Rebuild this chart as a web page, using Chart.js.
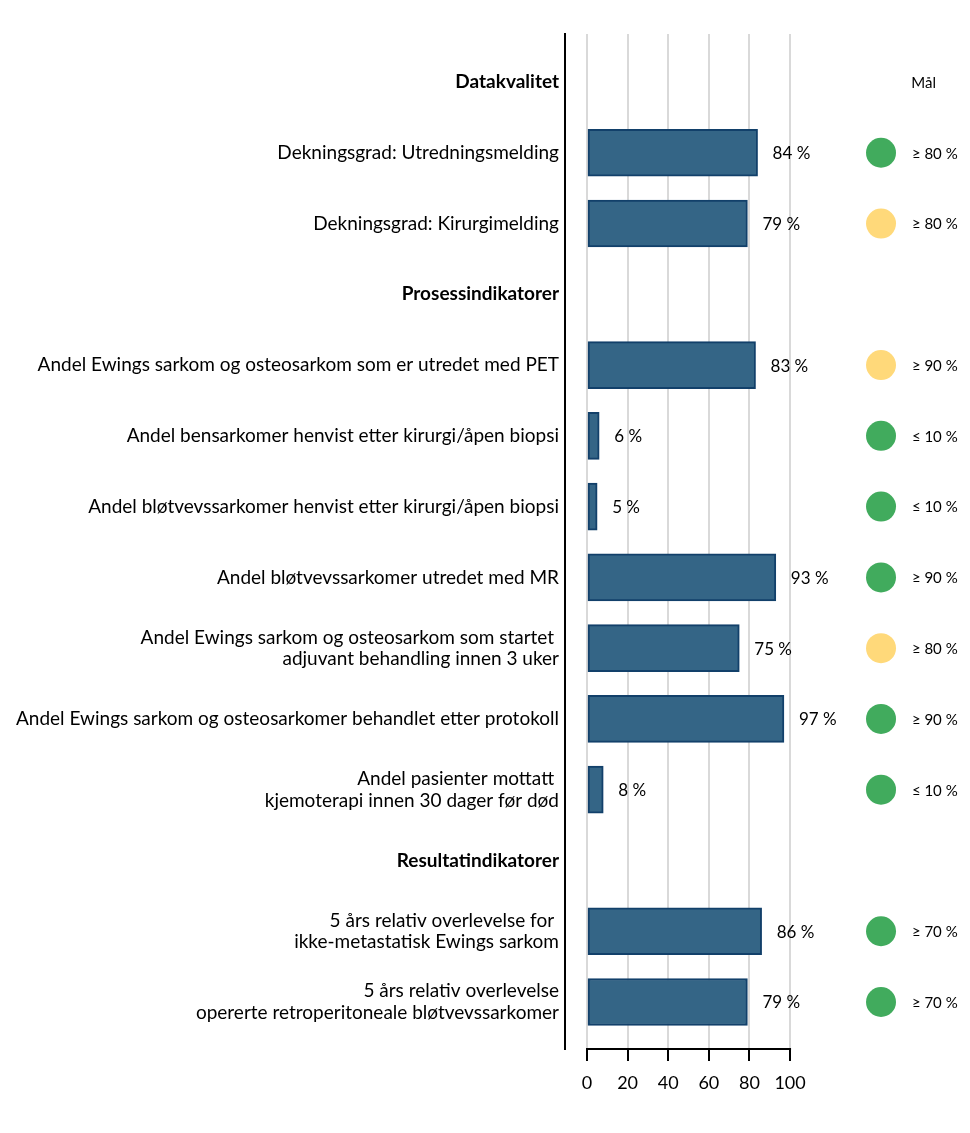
<!DOCTYPE html>
<html>
<head>
<meta charset="utf-8">
<script src="https://cdn.jsdelivr.net/npm/chart.js@4/dist/chart.umd.min.js"></script>
<style>
  html, body { margin: 0; padding: 0; background: #ffffff; }
  #wrap { width: 970px; height: 1133px; position: relative; }
</style>
</head>
<body>
<div id="wrap"><canvas id="c"></canvas></div>
<script>
// ---- data ----
const categories = [
  'Datakvalitet',
  'Dekningsgrad: Utredningsmelding',
  'Dekningsgrad: Kirurgimelding',
  'Prosessindikatorer',
  'Andel Ewings sarkom og osteosarkom som er utredet med PET',
  'Andel bensarkomer henvist etter kirurgi/åpen biopsi',
  'Andel bløtvevssarkomer henvist etter kirurgi/åpen biopsi',
  'Andel bløtvevssarkomer utredet med MR',
  'Andel Ewings sarkom og osteosarkom som startet \nadjuvant behandling innen 3 uker',
  'Andel Ewings sarkom og osteosarkomer behandlet etter protokoll',
  'Andel pasienter mottatt \nkjemoterapi innen 30 dager før død',
  'Resultatindikatorer',
  '5 års relativ overlevelse for \nikke-metastatisk Ewings sarkom',
  '5 års relativ overlevelse\nopererte retroperitoneale bløtvevssarkomer'
];
const headerRows = [0, 3, 11];
const values = [null, 84, 79, null, 83, 6, 5, 93, 75, 97, 8, null, 86, 79];
const goalStatus = [null, 'green', 'yellow', null, 'yellow', 'green', 'green', 'green', 'yellow', 'green', 'green', null, 'green', 'green'];
const goalTexts = [null, '≥ 80 %', '≥ 80 %', null, '≥ 90 %', '≤ 10 %', '≤ 10 %', '≥ 90 %', '≥ 80 %', '≥ 90 %', '≤ 10 %', null, '≥ 70 %', '≥ 70 %'];
const xTicks = [0, 20, 40, 60, 80, 100];
const goalHeader = 'Mål';

// ---- styling ----
const FONT = 'Lato, "Open Sans", sans-serif';
const statusColors = { green: '#41ab5d', yellow: '#ffd97a' };
const GOAL_X = 144.8;   // x-scale position of the goal markers column
const GOAL_TEXT_X = 160; // x-scale position of goal text

const barData = [];
values.forEach((v, i) => { if (v !== null) barData.push({ x: v, y: i }); });
const goalData = [];
const goalColors = [];
goalStatus.forEach((s, i) => { if (s) { goalData.push({ x: GOAL_X, y: i }); goalColors.push(statusColors[s]); } });

const annotPlugin = {
  id: 'annot',
  afterDatasetsDraw(chart) {
    const ctx = chart.ctx;
    const xs = chart.scales.x, ys = chart.scales.y;
    ctx.save();
    // value labels
    ctx.fillStyle = '#000';
    ctx.font = '17px ' + FONT;
    ctx.textAlign = 'left';
    ctx.textBaseline = 'middle';
    values.forEach((v, i) => {
      if (v === null) return;
      ctx.fillText(v + ' %', xs.getPixelForValue(v) + 15, ys.getPixelForValue(i) + 1);
    });
    // goal texts
    ctx.font = '15px ' + FONT;
    goalTexts.forEach((t, i) => {
      if (!t) return;
      ctx.fillText(t, xs.getPixelForValue(GOAL_TEXT_X), ys.getPixelForValue(i) + 1);
    });
    ctx.textAlign = 'center';
    ctx.fillText(goalHeader, xs.getPixelForValue(165.8), ys.getPixelForValue(0) + 1);
    // bottom axis line between 0 and 100
    ctx.strokeStyle = '#000';
    ctx.lineWidth = 2;
    ctx.beginPath();
    ctx.moveTo(xs.getPixelForValue(xTicks[0]) - 1, chart.chartArea.bottom);
    ctx.lineTo(xs.getPixelForValue(xTicks[xTicks.length - 1]) + 1, chart.chartArea.bottom);
    ctx.stroke();
    ctx.restore();
  }
};

new Chart(document.getElementById('c'), {
  data: {
    datasets: [
      {
        type: 'bar',
        indexAxis: 'y',
        data: barData,
        xAxisID: 'x',
        yAxisID: 'y',
        backgroundColor: '#346586',
        borderColor: '#12406a',
        borderWidth: 2,
        borderSkipped: false,
        barThickness: 47
      },
      {
        type: 'scatter',
        data: goalData,
        xAxisID: 'x',
        yAxisID: 'y',
        pointRadius: 15,
        pointHoverRadius: 15,
        pointBackgroundColor: goalColors,
        pointBorderWidth: 0,
        pointBorderColor: goalColors
      }
    ]
  },
  options: {
    responsive: true,
    maintainAspectRatio: false,
    animation: false,
    events: [],
    layout: { padding: { top: 34, right: 10, bottom: 0, left: 0 }, autoPadding: false },
    plugins: { legend: { display: false }, tooltip: { enabled: false } },
    scales: {
      x: {
        type: 'linear',
        position: 'bottom',
        offset: false,
        min: -10.84,
        max: 183.7,
        afterBuildTicks(s) { s.ticks = xTicks.map(v => ({ value: v })); },
        afterFit(s) { s.height = 84; },
        border: { display: false },
        grid: {
          display: true,
          offset: false,
          color: '#d9d9d9',
          lineWidth: 2,
          drawTicks: true,
          tickLength: 12,
          tickColor: '#000',
          tickWidth: 2
        },
        ticks: {
          color: '#000',
          font: { family: FONT, size: 18 },
          padding: 11,
          maxRotation: 0,
          autoSkip: false
        }
      },
      y: {
        type: 'linear',
        position: 'left',
        reverse: true,
        offset: false,
        min: -0.678,
        max: 13.664,
        afterBuildTicks(s) { s.ticks = categories.map((c, i) => ({ value: i })); },
        afterFit(s) { s.width = 565; },
        border: { display: true, color: '#000', width: 2 },
        grid: { display: false, drawTicks: false, offset: false },
        ticks: {
          color: '#000',
          padding: 6,
          autoSkip: false,
          font(ctx) {
            const i = ctx.tick ? ctx.tick.value : ctx.index;
            return { family: FONT, size: 19, weight: headerRows.includes(i) ? 'bold' : 'normal', lineHeight: 1.13 };
          },
          callback(v) {
            const lbl = categories[v];
            return lbl.includes('\n') ? lbl.split('\n') : lbl;
          }
        }
      }
    }
  },
  plugins: [annotPlugin]
});
</script>
</body>
</html>
